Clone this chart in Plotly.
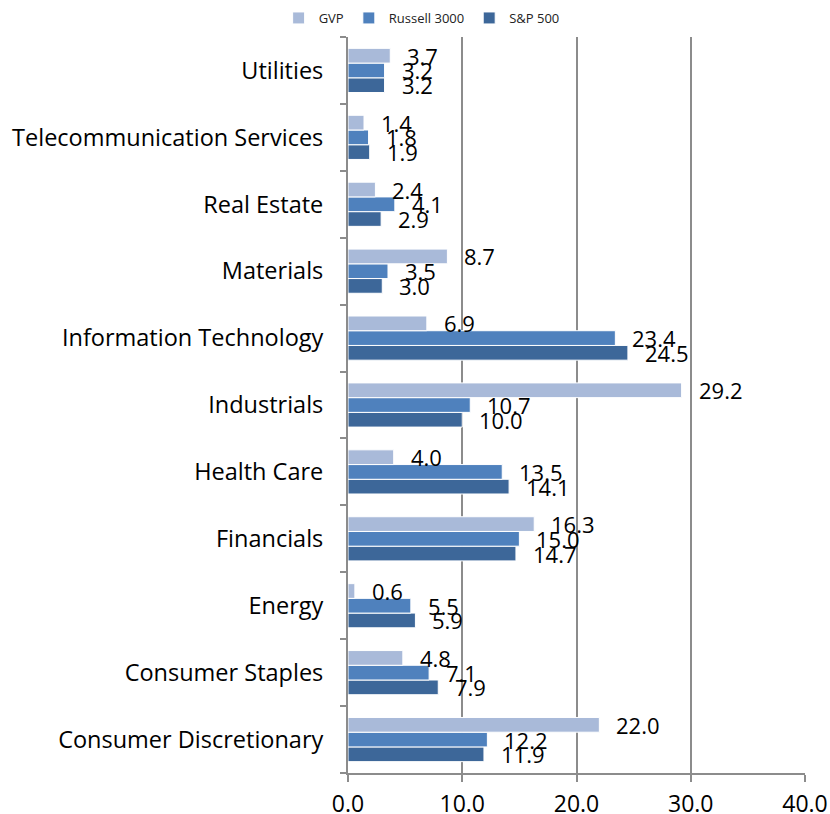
import plotly.graph_objects as go

categories = ["Consumer Discretionary", "Consumer Staples", "Energy", "Financials",
              "Health Care", "Industrials", "Information Technology", "Materials",
              "Real Estate", "Telecommunication Services", "Utilities"]
gvp = [22.0, 4.8, 0.6, 16.3, 4.0, 29.2, 6.9, 8.7, 2.4, 1.4, 3.7]
russell = [12.2, 7.1, 5.5, 15.0, 13.5, 10.7, 23.4, 3.5, 4.1, 1.8, 3.2]
sp500 = [11.9, 7.9, 5.9, 14.7, 14.1, 10.0, 24.5, 3.0, 2.9, 1.9, 3.2]
x_ticks = [0, 10, 20, 30, 40]
x_tick_labels = ["0.0", "10.0", "20.0", "30.0", "40.0"]

FONT = "Open Sans"
series = [("S&P 500", sp500, "#3D6799"), ("Russell 3000", russell, "#4F81BD"), ("GVP", gvp, "#A9BAD9")]

fig = go.Figure()
for name, vals, color in series:
    fig.add_trace(go.Bar(
        y=categories, x=vals, name=name, orientation="h",
        marker=dict(color=color, line=dict(color="white", width=1)),
    ))

W, H = 830, 814
L, R, T, B = 348, 25, 37, 41
band = (H - T - B) / len(categories)
bargap = 0.34
bar_px = band * (1 - bargap) / 3

annotations = []
for i, (name, vals, color) in enumerate(series):
    shift = (i - 1) * bar_px
    for c, v in zip(categories, vals):
        annotations.append(dict(
            x=v, y=c, xref="x", yref="y", text=f"{v:.1f}", showarrow=False,
            xanchor="left", yanchor="middle", xshift=15, yshift=shift,
            font=dict(family=FONT, size=22, color="black"),
        ))

fig.update_layout(
    width=W, height=H, barmode="group", bargap=bargap, bargroupgap=0,
    margin=dict(l=L, r=R, t=T, b=B, autoexpand=False),
    plot_bgcolor="white", paper_bgcolor="white",
    font=dict(family=FONT, color="black"),
    annotations=annotations,
    legend=dict(orientation="h", traceorder="reversed",
                xref="container", yref="container", x=0.508, xanchor="center",
                y=1 - 18 / H, yanchor="middle",
                font=dict(family=FONT, size=13, color="#222"),
                itemwidth=30, tracegroupgap=0),
    xaxis=dict(range=[0, 40], tickvals=x_ticks, ticktext=x_tick_labels,
               showgrid=True, gridcolor="#8C8C8C", gridwidth=2,
               showline=True, linecolor="#8C8C8C", linewidth=2,
               ticks="outside", ticklen=7, tickcolor="#8C8C8C", tickwidth=2,
               tickfont=dict(family=FONT, size=23, color="black"), ticklabelstandoff=2,
               zeroline=False, fixedrange=True),
    yaxis=dict(type="category", showgrid=False, showline=True, linecolor="#8C8C8C", linewidth=2,
               ticks="outside", tickson="boundaries", ticklen=6, tickcolor="#8C8C8C", tickwidth=2,
               tickfont=dict(family=FONT, size=23.5, color="black"), ticklabelstandoff=18,
               fixedrange=True),
)

fig.write_html("out.html", config={"displayModeBar": False},
               post_script="document.body.style.margin='0';")
